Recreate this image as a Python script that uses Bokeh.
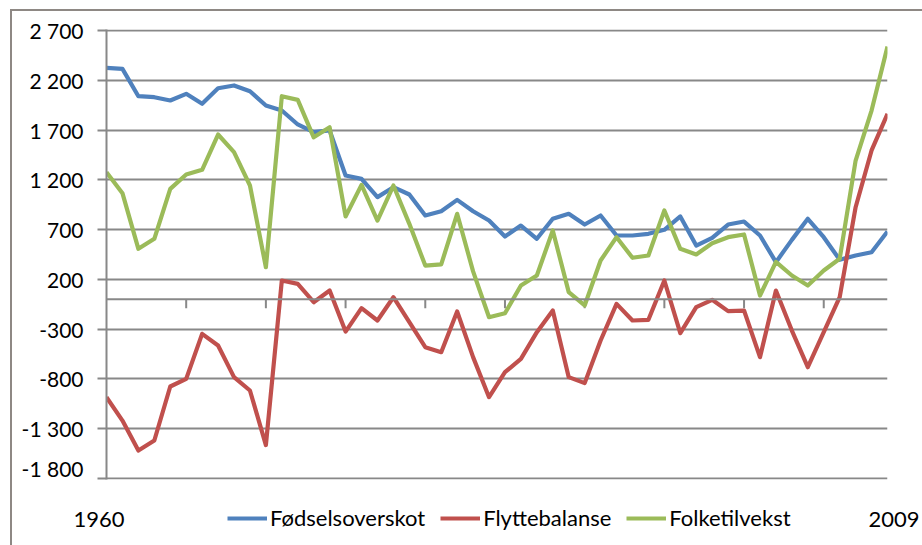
import numpy as np
from bokeh.plotting import figure
from bokeh.layouts import column
from bokeh.models import (ColumnDataSource, FixedTicker, Span, Legend, LegendItem, Range1d,
                          LinearAxis)
from bokeh.embed import file_html
from bokeh.resources import INLINE

years = list(range(1960, 2010))

fodselsoverskot = [2325, 2315, 2040, 2030, 1997, 2064, 1964, 2120, 2148, 2090,
                   1947, 1896, 1756, 1679, 1696, 1243, 1210, 1026, 1126, 1053,
                   842, 885, 999, 885, 791, 631, 741, 608, 809, 859,
                   751, 842, 641, 641, 658, 698, 832, 540, 617, 751,
                   781, 641, 373, 597, 809, 624, 397, 440, 473, 681]

flyttebalanse = [-983, -1218, -1519, -1418, -876, -799, -347, -464, -782, -916,
                 -1464, 189, 155, -29, 88, -324, -89, -213, 21, -230,
                 -481, -531, -122, -581, -983, -732, -598, -330, -113, -782,
                 -842, -414, -46, -213, -206, 189, -340, -79, -5, -119,
                 -113, -581, 88, -314, -682, -330, 21, 925, 1495, 1863]

folketilvekst = [1277, 1066, 507, 608, 1109, 1254, 1301, 1655, 1478, 1143,
                 322, 2040, 2003, 1627, 1728, 832, 1149, 791, 1143, 758,
                 339, 350, 859, 280, -180, -140, 138, 239, 691, 72,
                 -62, 390, 624, 417, 440, 892, 507, 450, 563, 624,
                 651, 38, 375, 239, 138, 289, 407, 1394, 1896, 2539]

series_names = ["Fødselsoverskot", "Flyttebalanse", "Folketilvekst"]
series_colors = ["#4F81BD", "#C0504D", "#9BBB59"]

y_ticks = [-1800, -1300, -800, -300, 200, 700, 1200, 1700, 2200, 2700]
y_tick_labels = ["-1 800", "-1 300", "-800", "-300", "200", "700", "1 200", "1 700", "2 200", "2 700"]
x_label_years = [1960, 2009]
zero_axis_ticks = list(range(1965, 2009, 5))

FONT = "Lato"
GRID = "#888888"
BORDER = "#8e8884"

W = 922
LEFT, RIGHT = 106, 24
TOP_H, BOT_H = 480, 65
ROW_Y = 26  # legend / year label row, px above the bottom edge

src = ColumnDataSource(dict(year=years, a=fodselsoverskot, b=flyttebalanse, c=folketilvekst))

# ---------------- main chart ----------------
p = figure(width=W, height=TOP_H, output_backend="svg", toolbar_location=None,
           x_range=Range1d(years[0], years[-1]), y_range=Range1d(y_ticks[0] - 10, y_ticks[-1] + 10),
           x_axis_location=None,
           min_border_left=LEFT, min_border_right=RIGHT, min_border_top=29, min_border_bottom=1,
           background_fill_color="white", border_fill_color=None)
p.outline_line_color = None

p.yaxis.ticker = FixedTicker(ticks=y_ticks)
p.yaxis.major_label_overrides = {t: l for t, l in zip(y_ticks, y_tick_labels)}
p.yaxis.major_label_text_font = FONT
p.yaxis.major_label_text_font_size = "21px"
p.yaxis.major_label_text_color = "black"
p.yaxis.axis_line_color = GRID
p.yaxis.axis_line_width = 2
p.yaxis.major_tick_line_color = GRID
p.yaxis.major_tick_line_width = 2
p.yaxis.major_tick_out = 9
p.yaxis.major_tick_in = 0
p.yaxis.minor_tick_line_color = None
p.yaxis.major_label_standoff = 14

p.xgrid.grid_line_color = None
p.ygrid.ticker = FixedTicker(ticks=y_ticks)
p.ygrid.grid_line_color = GRID
p.ygrid.grid_line_width = 2

# axis crossing at zero, tick marks every fifth year
p.add_layout(Span(location=0, dimension="width", line_color=GRID, line_width=2))
p.segment(x0=zero_axis_ticks, y0=[0] * len(zero_axis_ticks),
          x1=zero_axis_ticks, y1=[-90] * len(zero_axis_ticks),
          line_color=GRID, line_width=2)

for col, color in zip(["a", "b", "c"], series_colors):
    p.line("year", col, source=src, line_color=color, line_width=4.2, line_join="round")

# ---------------- bottom strip: year labels + legend ----------------
q = figure(width=W, height=BOT_H, output_backend="svg", toolbar_location=None,
           x_range=Range1d(years[0], years[-1]), y_range=Range1d(0, BOT_H),
           x_axis_location=None, y_axis_location=None,
           min_border_left=LEFT, min_border_right=RIGHT, min_border_top=0, min_border_bottom=0,
           background_fill_color=None, border_fill_color=None)
q.outline_line_color = None
q.grid.visible = False


def year_axis(label, standoff):
    return LinearAxis(ticker=FixedTicker(ticks=[ROW_Y]),
                      major_label_overrides={ROW_Y: label},
                      axis_line_color=None, major_tick_line_color=None,
                      minor_tick_line_color=None,
                      major_label_text_font=FONT, major_label_text_font_size="22px",
                      major_label_text_color="black", major_label_standoff=standoff)


q.add_layout(year_axis(str(x_label_years[0]), -24), "left")
q.add_layout(year_axis(str(x_label_years[-1]), -25), "right")

# legend keys: same styling as the series, no visible points in the strip
nan_src = ColumnDataSource(dict(x=[years[0], years[-1]], y=[np.nan, np.nan]))
legend_renderers = [q.line("x", "y", source=nan_src, line_color=c, line_width=4.2)
                    for c in series_colors]
legend = Legend(items=[LegendItem(label=n, renderers=[r]) for n, r in zip(series_names, legend_renderers)],
                orientation="horizontal", location=(121, ROW_Y - 12),
                background_fill_alpha=0, border_line_color=None,
                label_text_font=FONT, label_text_font_size="22px", label_text_color="black",
                glyph_width=40, glyph_height=24, label_standoff=3, spacing=15,
                padding=0, margin=0)
q.add_layout(legend, "center")

layout = column(p, q, spacing=0)
layout.styles = {
    "background-color": "white",
    "background-image": f"linear-gradient({BORDER}, {BORDER}), linear-gradient({BORDER}, {BORDER})",
    "background-position": "10px 9px, 10px 9px",
    "background-size": "100% 2px, 2px 100%",
    "background-repeat": "no-repeat, no-repeat",
}

open("out.html", "w").write(file_html(layout, INLINE))
